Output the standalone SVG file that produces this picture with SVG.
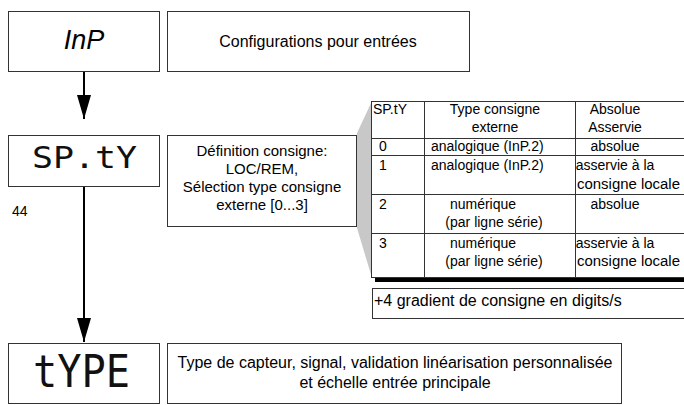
<svg xmlns="http://www.w3.org/2000/svg" width="684" height="405" viewBox="0 0 684 405">
<style>
.box{fill:#fff;stroke:#333;stroke-width:1}
.t{font-family:"Liberation Sans",Arial,sans-serif;fill:#000}
.s16{font-size:16px}
.s15{font-size:15px}
.s14{font-size:14px}
.mid{text-anchor:middle}
.seg{font-family:"DejaVu Sans Mono","Liberation Mono",monospace;fill:#111}
.conn{stroke:#000;stroke-width:2;fill:none}
.grid{stroke:#333;stroke-width:1;fill:none}
</style>
<defs>
<marker id="ah" markerUnits="userSpaceOnUse" markerWidth="24" markerHeight="14" refX="24" refY="7" orient="auto">
<path d="M0,0 L24,7 L0,14 z" fill="#000"/>
</marker>
</defs>

<polygon points="357,133 372,101 372,278 357,228" fill="#c8c8c8"/>

<g id="connectors">
<line class="conn" x1="84" y1="71" x2="84" y2="119" marker-end="url(#ah)"/>
<line class="conn" x1="84" y1="186" x2="84" y2="342" marker-end="url(#ah)"/>
</g>

<g id="inp">
<rect class="box" x="8.5" y="11.5" width="151" height="60"/>
<text class="t mid" x="84" y="49" font-size="27" font-style="italic">InP</text>
</g>
<g id="inp-desc">
<rect class="box" x="167.5" y="11.5" width="302" height="60"/>
<text class="t s16 mid" x="318" y="47">Configurations pour entrées</text>
</g>

<g id="spty">
<rect class="box" x="8.5" y="135.5" width="151" height="51"/>
<text class="seg" x="32" y="168" font-size="31" textLength="105" lengthAdjust="spacingAndGlyphs">SP.tY</text>
<text class="t s14" x="12" y="216">44</text>
</g>
<g id="spty-desc">
<rect class="box" x="167.5" y="135.5" width="189" height="91"/>
<text class="t s15 mid" x="262" y="156">Définition consigne:</text>
<text class="t s15 mid" x="262" y="174">LOC/REM,</text>
<text class="t s15 mid" x="262" y="192">Sélection type consigne</text>
<text class="t s15 mid" x="262" y="210">externe [0...3]</text>
</g>

<g id="table">
<rect x="371.5" y="101.5" width="320" height="176" fill="#fff" stroke="#333"/>
<line x1="375" y1="280" x2="684" y2="280" stroke="#000" stroke-width="4"/>
<line class="grid" x1="424.5" y1="101" x2="424.5" y2="277"/>
<line class="grid" x1="575.5" y1="101" x2="575.5" y2="277"/>
<line class="grid" x1="371" y1="138.5" x2="684" y2="138.5"/>
<line class="grid" x1="371" y1="155.5" x2="684" y2="155.5"/>
<line class="grid" x1="371" y1="194.5" x2="684" y2="194.5"/>
<line class="grid" x1="371" y1="233.5" x2="684" y2="233.5"/>
<text class="t s14" x="373" y="114">SP.tY</text>
<text class="t s14 mid" x="495" y="114">Type consigne</text>
<text class="t s14 mid" x="495" y="132">externe</text>
<text class="t s14 mid" x="615" y="114">Absolue</text>
<text class="t s14 mid" x="615" y="132">Asservie</text>
<text class="t s14" x="379" y="151">0</text>
<text class="t s14" x="431" y="151">analogique (InP.2)</text>
<text class="t s14 mid" x="615" y="151">absolue</text>
<text class="t s14" x="379" y="170">1</text>
<text class="t s14" x="431" y="170">analogique (InP.2)</text>
<text class="t s14 mid" x="615" y="170">asservie à la</text>
<text class="t s14" x="577" y="189" textLength="103" lengthAdjust="spacingAndGlyphs">consigne locale</text>
<text class="t s14" x="379" y="209">2</text>
<text class="t s14 mid" x="483" y="209">numérique</text>
<text class="t s14 mid" x="494" y="227">(par ligne série)</text>
<text class="t s14 mid" x="615" y="209">absolue</text>
<text class="t s14" x="379" y="248">3</text>
<text class="t s14 mid" x="483" y="248">numérique</text>
<text class="t s14 mid" x="494" y="266">(par ligne série)</text>
<text class="t s14 mid" x="615" y="248">asservie à la</text>
<text class="t s14" x="577" y="266" textLength="103" lengthAdjust="spacingAndGlyphs">consigne locale</text>
</g>

<g id="gradient-note">
<rect class="box" x="372.5" y="288.5" width="320" height="30"/>
<text class="t s16" x="374" y="306">+4 gradient de consigne en digits/s</text>
</g>

<g id="type">
<rect class="box" x="8.5" y="343.5" width="151" height="60"/>
<text class="seg" x="33" y="387" font-size="44" textLength="97" lengthAdjust="spacingAndGlyphs">tYPE</text>
</g>
<g id="type-desc">
<rect class="box" x="167.5" y="343.5" width="454" height="60"/>
<text class="t s16 mid" x="395" y="368">Type de capteur, signal, validation linéarisation personnalisée</text>
<text class="t s16 mid" x="395" y="388">et échelle entrée principale</text>
</g>
</svg>
